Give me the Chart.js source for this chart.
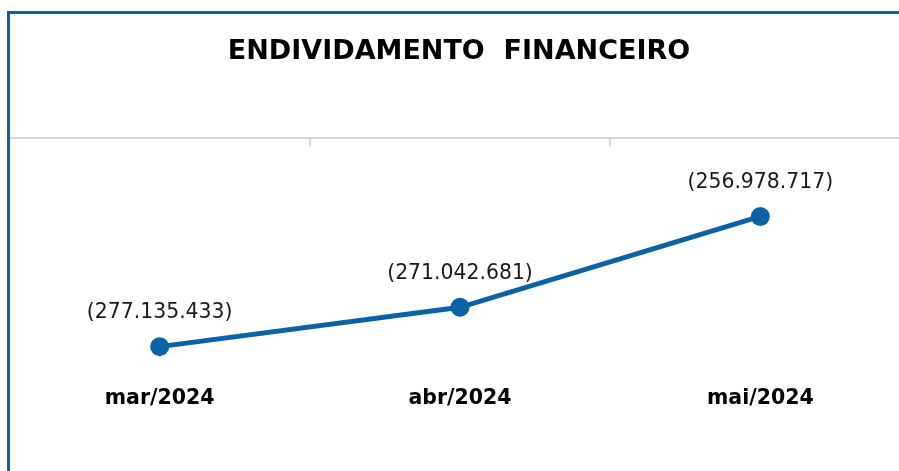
<!DOCTYPE html>
<html>
<head>
<meta charset="utf-8">
<script src="https://cdn.jsdelivr.net/npm/chart.js@4/dist/chart.umd.min.js"></script>
<style>
  html, body { margin: 0; padding: 0; background: #ffffff; overflow: hidden; }
  #wrap { position: relative; width: 899px; height: 471px; overflow: hidden; }
  #chart { position: absolute; left: 0; top: 0; }
  #frame { position: absolute; left: 7px; top: 11px; width: 1000px; height: 1000px;
           border-left: 3px solid #0b63a5; border-top: 3px solid #0b63a5; pointer-events: none; }
</style>
</head>
<body>
<div id="wrap">
  <canvas id="chart" width="920" height="471" style="width:920px;height:471px"></canvas>
  <div id="frame"></div>
</div>
<script>
const titleText = 'ENDIVIDAMENTO  FINANCEIRO';
const categories = ['mar/2024', 'abr/2024', 'mai/2024'];
const debtValues = [-277135433, -271042681, -256978717];
const yMin = -281000000;
const yMax = -244900000;

const lineColor = '#0b63a5';

function fmtParen(v) {
  const s = Math.abs(Math.round(v)).toString().replace(/\B(?=(\d{3})+(?!\d))/g, '.');
  return v < 0 ? '(' + s + ')' : s;
}

const dataLabelPlugin = {
  id: 'dataLabels',
  afterDatasetsDraw(chart) {
    const ctx = chart.ctx;
    chart.data.datasets.forEach((ds, di) => {
      const meta = chart.getDatasetMeta(di);
      meta.data.forEach((pt, i) => {
        ctx.save();
        ctx.font = '20.4px "DejaVu Sans"';
        ctx.fillStyle = '#1a1a1a';
        ctx.textAlign = 'center';
        ctx.textBaseline = 'middle';
        ctx.fillText(fmtParen(ds.data[i]), pt.x, pt.y - 34);
        ctx.restore();
      });
    });
  }
};

new Chart(document.getElementById('chart'), {
  type: 'line',
  data: {
    labels: categories,
    datasets: [{
      data: debtValues,
      borderColor: lineColor,
      backgroundColor: lineColor,
      borderWidth: 5,
      pointRadius: 9.5,
      pointHoverRadius: 9.5,
      pointBorderWidth: 0,
      pointBackgroundColor: lineColor,
      tension: 0
    }]
  },
  options: {
    responsive: false,
    animation: false,
    events: [],
    layout: { padding: { left: 7.5, right: 9.5, top: 0, bottom: 46 } },
    plugins: {
      legend: { display: false },
      tooltip: { enabled: false },
      title: {
        display: true,
        text: titleText,
        color: '#000000',
        font: { family: '"DejaVu Sans"', size: 27, weight: 'bold' },
        padding: { top: 36, bottom: 70 }
      }
    },
    scales: {
      x: {
        position: 'bottom',
        offset: true,
        grid: { display: false, drawTicks: false },
        border: { display: false },
        ticks: {
          color: '#000000',
          padding: 14.4,
          font: { family: '"DejaVu Sans"', size: 20.5, weight: 'bold' }
        }
      },
      x2: {
        position: 'top',
        type: 'category',
        labels: categories,
        offset: true,
        grid: { offset: true, drawOnChartArea: false, drawTicks: true, tickLength: -8, color: '#d9d9d9', lineWidth: 2 },
        border: { display: true, color: '#d9d9d9', width: 2 },
        ticks: { display: false },
        afterFit(scale) { scale.height = 0; }
      },
      y: {
        display: false,
        min: yMin,
        max: yMax
      }
    }
  },
  plugins: [dataLabelPlugin]
});
</script>
</body>
</html>
